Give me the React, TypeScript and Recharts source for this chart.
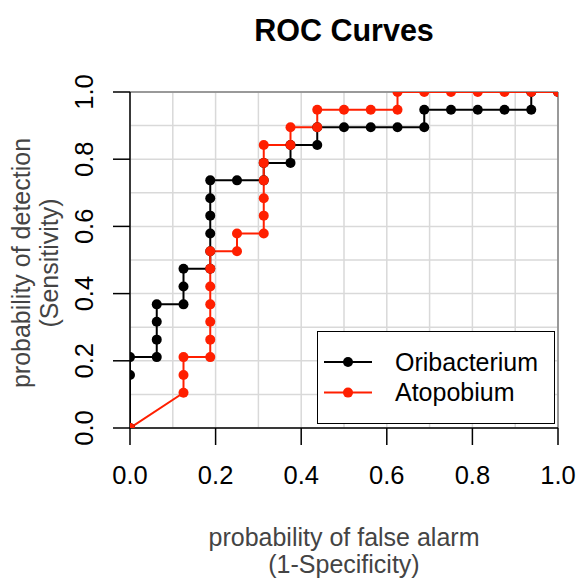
import React from "react"
import { CartesianGrid, Legend, Line, LineChart, ReferenceLine, XAxis, YAxis } from "recharts"

// grid every 0.1, labels/ticks only every 0.2
const axisTicks = [0, 0.1, 0.2, 0.3, 0.4, 0.5, 0.6, 0.7, 0.8, 0.9, 1]

const oribacteriumFpr = [
  0, 0, 0, 0.0625, 0.0625, 0.0625, 0.0625, 0.125, 0.125, 0.125, 0.1875, 0.1875, 0.1875, 0.1875, 0.1875, 0.1875, 0.25,
  0.3125, 0.3125, 0.375, 0.375, 0.4375, 0.4375, 0.5, 0.5625, 0.625, 0.6875, 0.6875, 0.75, 0.8125, 0.875, 0.9375, 0.9375, 1,
]
const oribacteriumTpr = [
  0, 0.158, 0.211, 0.211, 0.263, 0.316, 0.368, 0.368, 0.421, 0.474, 0.474, 0.526, 0.579, 0.632, 0.684, 0.737, 0.737,
  0.737, 0.789, 0.789, 0.842, 0.842, 0.895, 0.895, 0.895, 0.895, 0.895, 0.947, 0.947, 0.947, 0.947, 0.947, 1, 1,
]

const atopobiumFpr = [
  0, 0.125, 0.125, 0.125, 0.1875, 0.1875, 0.1875, 0.1875, 0.1875, 0.1875, 0.1875, 0.25, 0.25, 0.3125, 0.3125, 0.3125,
  0.3125, 0.3125, 0.3125, 0.375, 0.375, 0.4375, 0.4375, 0.5, 0.5625, 0.625, 0.625, 0.6875, 0.75, 0.8125, 0.875, 0.9375, 1,
]
const atopobiumTpr = [
  0, 0.105, 0.158, 0.211, 0.211, 0.263, 0.316, 0.368, 0.421, 0.474, 0.526, 0.526, 0.579, 0.579, 0.632, 0.684, 0.737,
  0.789, 0.842, 0.842, 0.895, 0.895, 0.947, 0.947, 0.947, 0.947, 1, 1, 1, 1, 1, 1, 1,
]

const seriesNames = ["Oribacterium", "Atopobium"]
const seriesColors = ["#000000", "#ff1f00"]

const toRows = (xs: number[], ys: number[]) => xs.map((x, i) => ({ x, y: ys[i] }))
const oribacteriumData = toRows(oribacteriumFpr, oribacteriumTpr)
const atopobiumData = toRows(atopobiumFpr, atopobiumTpr)

const font = '"Liberation Sans", Arial, Helvetica, sans-serif'
const isLabelled = (v: number) => Math.round(v * 10) % 2 === 0

const XTick = (props: any) => {
  const { x, y, payload } = props
  if (!isLabelled(payload.value)) return <g />
  return (
    <g>
      <line x1={x} x2={x} y1={y - 17} y2={y} stroke="#000" strokeWidth={1.5} />
      <text x={x} y={y + 39} textAnchor="middle" fontSize={25.5} fontFamily={font} fill="#000">
        {payload.value.toFixed(1)}
      </text>
    </g>
  )
}

const YTick = (props: any) => {
  const { x, y, payload } = props
  if (!isLabelled(payload.value)) return <g />
  return (
    <g>
      <line x1={x} x2={x + 17} y1={y} y2={y} stroke="#000" strokeWidth={1.5} />
      <text
        transform={`translate(${x - 29},${y}) rotate(-90)`}
        dy="0.36em"
        textAnchor="middle"
        fontSize={25.5}
        fontFamily={font}
        fill="#000"
      >
        {payload.value.toFixed(1)}
      </text>
    </g>
  )
}

const XTitle = (props: any) => {
  const { x, y, width } = props.viewBox
  const cx = x + width / 2
  return (
    <g fontFamily={font} fontSize={25} fill="#444">
      <text x={cx} y={y + 118} textAnchor="middle">
        probability of false alarm
      </text>
      <text x={cx} y={y + 145} textAnchor="middle">
        (1-Specificity)
      </text>
    </g>
  )
}

const YTitle = (props: any) => {
  const { y, height } = props.viewBox
  const cy = y + height / 2 + 3
  return (
    <g fontFamily={font} fontSize={25} fill="#444">
      <text transform={`translate(30,${cy}) rotate(-90)`} textAnchor="middle">
        probability of detection
      </text>
      <text transform={`translate(58,${cy}) rotate(-90)`} textAnchor="middle">
        (Sensitivity)
      </text>
    </g>
  )
}

const LegendBox = () => (
  <div style={{ width: 238, height: 93, border: "1.5px solid #000", background: "#fff", boxSizing: "border-box" }}>
    <svg width={235} height={90}>
      {seriesNames.map((name, i) => {
        const cy = 30 + i * 30.6
        return (
          <g key={name}>
            <line x1={6} x2={54} y1={cy} y2={cy} stroke={seriesColors[i]} strokeWidth={2} />
            <circle cx={30} cy={cy} r={5} fill={seriesColors[i]} />
            <text x={77} y={cy} dy="0.35em" fontSize={25} fontFamily={font} fill="#000">
              {name}
            </text>
          </g>
        )
      })}
    </svg>
  </div>
)

export default function App() {
  return (
    <div style={{ position: "absolute", left: 0, top: 0, width: 578, height: 580, background: "#fff" }}>
      <div
        style={{
          position: "absolute",
          left: 130,
          width: 428,
          top: 15,
          textAlign: "center",
          fontFamily: font,
          fontWeight: "bold",
          fontSize: 30.5,
          lineHeight: "30px",
          color: "#000",
        }}
      >
        ROC Curves
      </div>
      <LineChart width={578} height={580} margin={{ top: 92, right: 20, bottom: 0, left: 0 }}>
        <CartesianGrid stroke="#d9d9d9" strokeWidth={1.5} />
        <XAxis
          dataKey="x"
          type="number"
          domain={[0, 1]}
          ticks={axisTicks}
          interval={0}
          allowDataOverflow
          height={152}
          tickSize={17}
          tickMargin={0}
          tickLine={false}
          tick={<XTick />}
          axisLine={{ stroke: "#000", strokeWidth: 1.5 }}
          label={XTitle}
        />
        <YAxis
          type="number"
          domain={[0, 1]}
          ticks={axisTicks}
          interval={0}
          allowDataOverflow
          width={130}
          tickSize={17}
          tickMargin={0}
          tickLine={false}
          tick={<YTick />}
          axisLine={{ stroke: "#000", strokeWidth: 1.5 }}
          label={YTitle}
        />
        <ReferenceLine y={1} stroke="#808080" strokeWidth={1.5} />
        <ReferenceLine x={1} stroke="#808080" strokeWidth={1.5} />
        <Line
          data={oribacteriumData}
          dataKey="y"
          name={seriesNames[0]}
          type="linear"
          stroke={seriesColors[0]}
          strokeWidth={2}
          dot={{ r: 5, fill: seriesColors[0], stroke: "none", strokeWidth: 0 }}
          isAnimationActive={false}
        />
        <Line
          data={atopobiumData}
          dataKey="y"
          name={seriesNames[1]}
          type="linear"
          stroke={seriesColors[1]}
          strokeWidth={2}
          dot={{ r: 5, fill: seriesColors[1], stroke: "none", strokeWidth: 0 }}
          isAnimationActive={false}
        />
        <Legend
          layout="vertical"
          align="center"
          verticalAlign="middle"
          content={<LegendBox />}
          wrapperStyle={{ left: 317, top: 331, width: 238, height: 93 }}
        />
      </LineChart>
    </div>
  )
}
